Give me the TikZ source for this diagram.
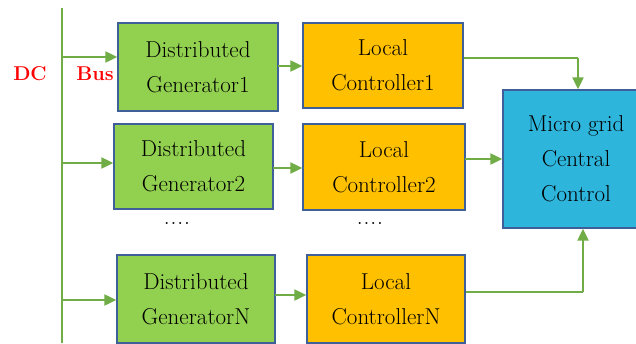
\documentclass[tikz,border=0pt]{standalone}
\usetikzlibrary{arrows.meta}
\definecolor{gfill}{HTML}{92D050}
\definecolor{ofill}{HTML}{FFC000}
\definecolor{bfill}{HTML}{2EB5DC}
\definecolor{bdr}{HTML}{3F5F99}
\definecolor{agreen}{HTML}{70AD47}
\definecolor{dcred}{HTML}{FF0000}
\tikzset{
  box/.style={draw=bdr, line width=1.3pt, align=center, inner sep=0pt,
    font=\fontsize{23}{35}\selectfont, text=black},
  gbox/.style={box, fill=gfill},
  obox/.style={box, fill=ofill},
  mbox/.style={box, fill=bfill},
  arr/.style={draw=agreen, line width=2pt, -{Triangle[length=12pt,width=11pt]}},
  wire/.style={draw=agreen, line width=2pt},
  lbl/.style={text=dcred, font=\fontsize{20}{20}\selectfont\bfseries},
  dots/.style={font=\fontsize{14}{14}\selectfont\bfseries, text=black}
}
\begin{document}
\begin{tikzpicture}[x=1pt,y=-1pt]
\useasboundingbox (0,0) rectangle (636,343);
% boxes
\node[gbox, minimum width=160pt, minimum height=88pt] (dg1) at (198,67) {Distributed\\Generator1};
\node[obox, minimum width=160pt, minimum height=85pt] (lc1) at (383,65.5) {Local\\Controller1};
\node[gbox, minimum width=159pt, minimum height=85pt] (dg2) at (193.5,166.5) {Distributed\\Generator2};
\node[obox, minimum width=162pt, minimum height=86pt] (lc2) at (384,167) {Local\\Controller2};
\node[gbox, minimum width=158pt, minimum height=88pt] (dgn) at (196,299) {Distributed\\GeneratorN};
\node[obox, minimum width=158pt, minimum height=88pt] (lcn) at (386,299) {Local\\ControllerN};
\node[mbox, minimum width=146pt, minimum height=138pt] (mg) at (576,159) {Micro grid\\Central\\Control};
% dots
\node[dots] (d1) at (177,223) {.\,.\,.\,.};
\node[dots] (d2) at (370,223) {.\,.\,.\,.};
% labels
\node[lbl] (dc) at (30,74) {DC};
\node[lbl] (bus) at (95,74) {Bus};
% bus line
\coordinate (bt) at (62,8);
\coordinate (bb) at (62,343);
\draw[wire] (bt) -- (bb);
\coordinate (b1) at (62,57);
\coordinate (b2) at (62,163);
\coordinate (b3) at (62,300);
\draw[arr] (b1) -- (b1 -| dg1.west);
\draw[arr] (b2) -- (b2 -| dg2.west);
\draw[arr] (b3) -- (b3 -| dgn.west);
% generator to controller
\coordinate (g1) at (278,66);
\coordinate (g2) at (273,168);
\coordinate (g3) at (275,295);
\draw[arr] (g1) -- (g1 -| lc1.west);
\draw[arr] (g2) -- (g2 -| lc2.west);
\draw[arr] (g3) -- (g3 -| lcn.west);
% controllers to central
\coordinate (k1) at (578,58);
\draw[wire] (k1 -| lc1.east) -- (k1);
\draw[arr] (k1) -- (k1 |- mg.north);
\coordinate (k2) at (465,159);
\draw[arr] (k2) -- (k2 -| mg.west);
\coordinate (k3) at (583,292);
\draw[wire] (k3 -| lcn.east) -- (k3);
\draw[arr] (k3) -- (k3 |- mg.south);
\end{tikzpicture}
\end{document}
